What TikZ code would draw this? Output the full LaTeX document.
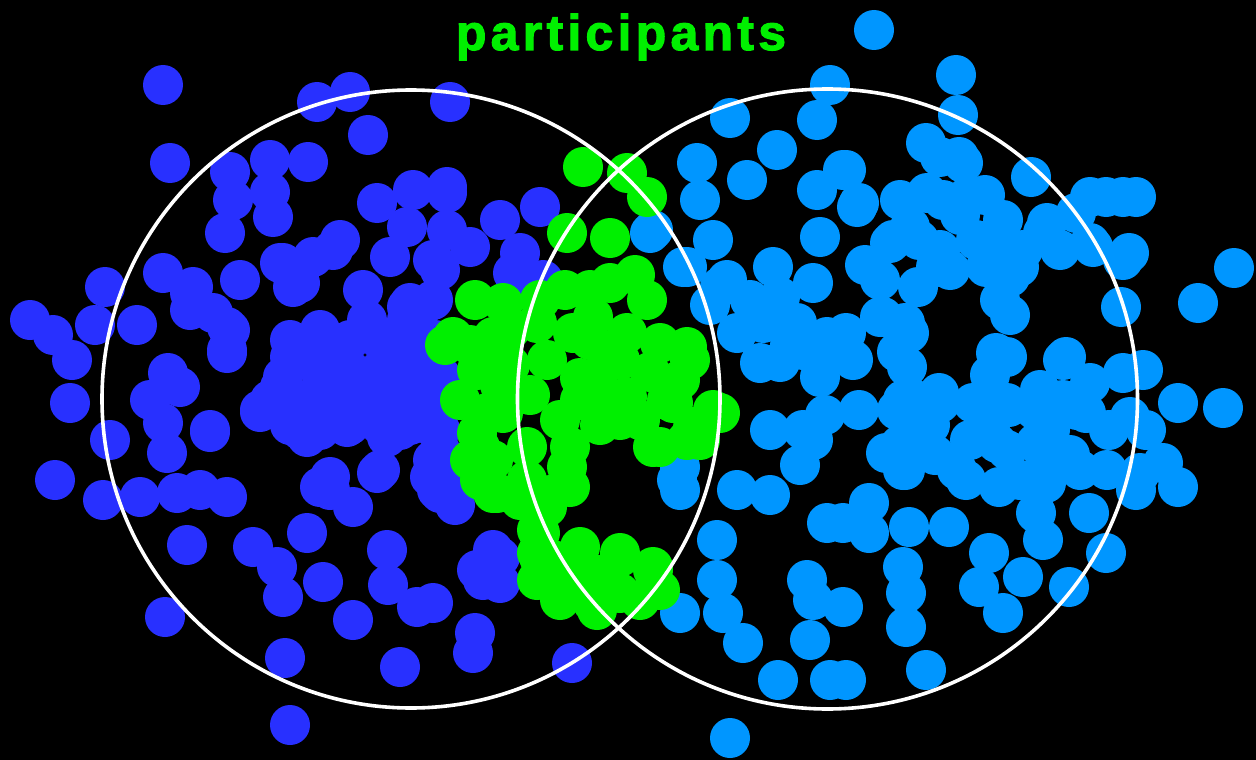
\documentclass[tikz,border=0pt]{standalone}
\usepackage{fontspec}
\newfontfamily\labelfont[LetterSpace=8.5,FakeBold=2.2]{Liberation Sans Bold}
\definecolor{dotblue}{RGB}{40,48,255}
\definecolor{dotlight}{RGB}{0,150,255}
\definecolor{dotgreen}{RGB}{0,240,0}
\tikzset{
  bluedot/.style={fill=dotblue},
  lightdot/.style={fill=dotlight},
  greendot/.style={fill=dotgreen},
  ring/.style={draw=white, line width=3.6pt},
  titletext/.style={text=dotgreen, font=\labelfont\fontsize{50}{52}\selectfont, inner sep=0pt, anchor=base}
}
\begin{document}
\begin{tikzpicture}[x=1pt,y=-1pt]
\fill[black] (0,0) rectangle (1256,760);
\useasboundingbox (0,0) rectangle (1256,760);
% dark blue dots
\foreach \x/\y in {163/85, 317/102, 350/92, 450/102, 368/135, 170/163, 230/172, 270/160, 308/162, 233/200, 273/217, 225/233, 270/192,
377/203, 413/190, 447/193, 390/257, 433/260, 407/227, 447/230,
340/240, 313/257, 280/263, 240/280, 363/290, 410/303, 293/287,
193/287, 227/327, 227/350, 190/310,
320/330, 367/320, 407/320, 290/357, 340/363, 387/353, 420/357, 280/387, 260/410, 320/403, 367/387, 413/390, 307/437, 347/427, 387/437, 423/423, 440/450,
210/430, 180/387, 330/477, 380/470, 430/477,
105/287, 30/320, 53/335, 72/360, 95/325, 137/325, 163/273, 190/293, 213/313, 230/330, 227/353, 168/373, 283/263, 300/283, 333/250, 407/307, 310/350, 283/377, 367/333, 400/350,
70/403, 110/440, 150/400, 163/423, 167/453, 210/432, 55/480, 103/500, 140/497, 177/493, 200/490, 227/497, 187/545, 253/547, 307/533, 277/567, 283/597, 323/582, 387/550, 388/585, 353/620, 400/667, 285/658, 290/725, 165/617, 320/487, 353/507, 377/473, 260/412, 300/430, 317/397, 350/413, 400/430, 400/397, 417/607,
437/393, 440/430, 437/490, 500/557, 483/580, 500/583, 433/603, 475/633, 473/653, 572/663,
447/187, 500/220, 540/207, 470/247, 520/253, 530/290, 433/300, 440/270, 513/273, 543/280, 420/310, 433/460, 440/493, 493/550, 477/570, 497/580,
290/340, 320/345, 350/340, 380/340, 410/340, 435/340, 320/370, 350/370, 380/370, 410/370, 440/375,
270/400, 300/400, 330/400, 360/400, 390/400, 420/400, 450/395,
290/425, 320/430, 350/425, 380/425, 410/425, 440/430, 455/470, 455/505, 330/490, 445/485}
  \fill[bluedot] (\x,\y) circle[radius=20pt];
% light blue dots
\foreach \x/\y in {874/30, 830/85, 956/75, 958/115, 926/143, 959/157, 846/170, 859/203, 1031/177, 1106/197, 1136/197, 943/200, 919/240, 893/240, 976/240, 1003/220, 1043/233, 1076/213, 1129/253, 1093/247, 936/267, 986/267, 1019/267, 883/317, 909/333, 1010/315, 996/353, 1121/307, 1198/303, 1234/268, 1066/357, 1143/370, 846/333, 853/360,
730/118, 697/163, 700/200, 653/230, 713/240, 747/180, 777/150, 817/190, 817/120, 820/237, 687/267, 720/287, 773/267, 737/333, 770/320, 803/350, 760/363,
680/490, 680/467, 737/490, 770/495, 803/430, 717/540, 717/580, 680/613, 723/613, 743/643, 807/580, 827/523, 813/600, 810/640, 778/680, 830/680, 730/738,
1223/408, 1178/403, 1178/487, 1136/490, 1163/463, 1146/430, 1106/553, 1069/587, 1043/540, 1036/513, 1089/513, 1003/613, 979/587, 989/553, 1023/577, 906/627, 906/593, 903/567, 869/533, 869/503, 909/527, 949/527, 926/670, 846/680, 843/607, 843/523, 966/480, 999/487, 1046/483, 859/410, 903/400, 939/393, 983/413, 1009/407, 1036/443, 1063/400, 1086/413, 1109/430, 903/470, 886/453,
843/170, 857/207, 650/233, 890/243, 683/267, 727/280, 813/283, 780/297, 763/323, 797/323, 827/337, 835/352, 820/377, 880/317, 897/352, 897/410, 825/415, 770/430, 800/465, 813/440, 900/445, 677/480, 905/470,
940/157, 963/163, 927/193, 967/197, 1047/223, 1090/197, 1123/197, 910/227, 940/250, 990/243, 1023/250, 1090/243, 1123/260, 918/287, 950/270, 1010/277, 905/323, 907/367, 910/397, 990/375, 1007/357, 1063/360, 1090/383, 1123/373, 1130/417, 1077/410, 940/403, 973/403, 1007/403, 1040/390, 917/443, 957/470, 1007/450, 997/443, 1043/470, 1107/470, 1140/473,
960/215, 880/280, 1050/430, 1070/455, 930/425, 970/440, 1080/470, 1020/480, 935/455,
750/300, 790/345, 710/305, 780/362, 900/200, 985/195, 1035/410, 990/425, 1060/250, 865/265, 1000/300}
  \fill[lightdot] (\x,\y) circle[radius=20pt];
% green dots
\foreach \x/\y in {583/167, 627/173, 647/197, 567/233, 610/238,
610/283, 647/300, 593/317, 573/333, 627/333, 687/347, 660/343, 607/357,
503/303, 453/337, 493/337, 477/370, 537/323, 547/360,
477/433, 503/413, 493/460, 493/493, 527/447, 560/420, 580/400, 607/400, 620/420, 567/467, 570/487, 547/507, 527/480,
667/400, 713/410, 660/447, 693/427, 720/413,
540/560, 540/533, 620/553, 653/570, 620/593, 593/603, 567/577, 580/547,
487/413, 480/447, 497/493, 537/553, 537/580, 607/413, 570/447, 673/403, 717/413, 653/447, 687/440, 620/557, 653/567, 607/593, 597/610, 553/560, 537/530, 597/380, 627/397,
475/300, 445/345, 470/345, 510/330, 510/365, 500/385, 540/300, 565/290, 590/290, 635/275, 590/340, 620/360, 650/372, 680/380, 690/360, 580/378, 640/420, 600/425, 700/440, 480/480, 520/500, 550/495, 470/460, 560/600, 640/600, 600/575, 660/590, 530/395, 460/400}
  \fill[greendot] (\x,\y) circle[radius=20pt];
% rings
\draw[ring] (411,399) coordinate (lc) circle[radius=309pt];
\draw[ring] (827.5,399) coordinate (rc) circle[radius=310pt];
% title
\node[titletext] (title) at (621,50) {participants};
\end{tikzpicture}
\end{document}
